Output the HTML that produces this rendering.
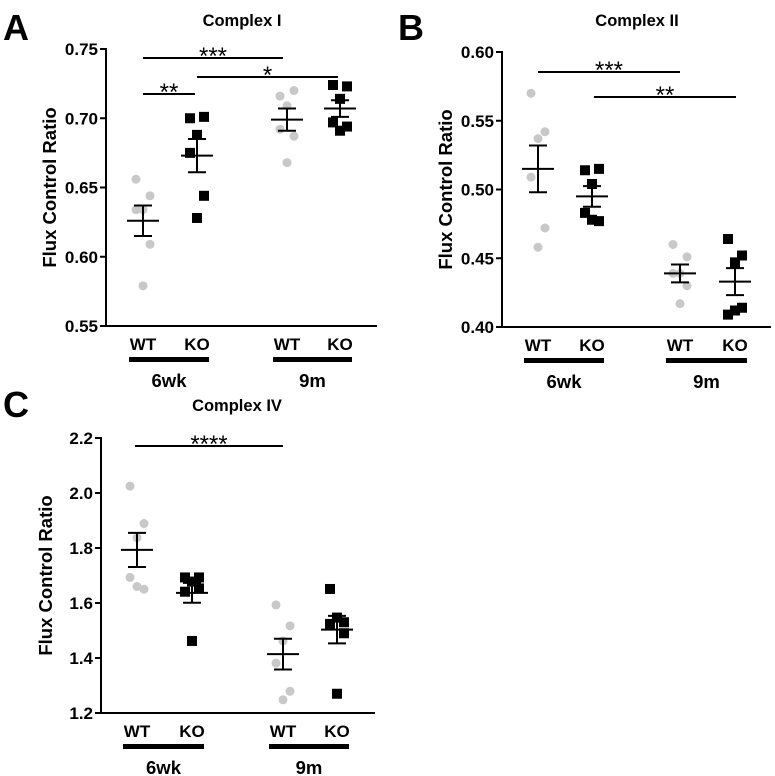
<!DOCTYPE html>
<html><head><meta charset="utf-8"><style>
html,body{margin:0;padding:0;background:#fff;}
svg{display:block;font-family:"Liberation Sans",Arial,sans-serif;font-weight:bold;}
</style></head><body>
<svg id="fig" width="775" height="776" viewBox="0 0 775 776"></svg>
<script>
// ---- data ----
const groupLabels = ["WT","KO","WT","KO"];
const ageLabels = ["6wk","9m"];
const aWT6 = [0.656,0.644,0.634,0.634,0.609,0.579];
const aKO6 = [0.700,0.701,0.688,0.675,0.644,0.628];
const aWT9 = [0.716,0.720,0.709,0.692,0.687,0.668];
const aKO9 = [0.724,0.723,0.714,0.697,0.694,0.691];
const aMeans = [0.626,0.673,0.699,0.707];
const aSem = [0.011,0.012,0.008,0.006];
const aTicks = [0.55,0.60,0.65,0.70,0.75];
const aTickLabels = ["0.55","0.60","0.65","0.70","0.75"];
const bWT6 = [0.570,0.542,0.537,0.509,0.472,0.458];
const bKO6 = [0.514,0.515,0.504,0.483,0.477,0.478];
const bWT9 = [0.460,0.451,0.439,0.439,0.430,0.417];
const bKO9 = [0.464,0.452,0.447,0.409,0.414,0.412];
const bMeans = [0.515,0.495,0.439,0.433];
const bSem = [0.017,0.0075,0.0065,0.0098];
const bTicks = [0.40,0.45,0.50,0.55,0.60];
const bTickLabels = ["0.40","0.45","0.50","0.55","0.60"];
const cWT6 = [2.025,1.889,1.837,1.693,1.650,1.660];
const cKO6 = [1.693,1.693,1.678,1.641,1.653,1.462];
const cWT9 = [1.593,1.517,1.462,1.381,1.279,1.248];
const cKO9 = [1.651,1.530,1.547,1.524,1.490,1.270];
const cMeans = [1.793,1.637,1.414,1.503];
const cSem = [0.062,0.036,0.056,0.050];
const cTicks = [1.2,1.4,1.6,1.8,2.0,2.2];
const cTickLabels = ["1.2","1.4","1.6","1.8","2.0","2.2"];
const jitter = [-7,7,0,-7,7,0];

const NS="http://www.w3.org/2000/svg";
const svg=document.getElementById('fig');
function mk(tag,attrs,parent,text){const e=document.createElementNS(NS,tag);for(const k in attrs)e.setAttribute(k,attrs[k]);if(text!==undefined)e.textContent=text;(parent||svg).appendChild(e);return e;}

function panel(cfg){
  const g=mk('g',{});
  
  
  const y=v=>cfg.y0+(v-cfg.vmin)/(cfg.vmax-cfg.vmin)*(cfg.y1-cfg.y0);
  const L=mk('text',{x:cfg.letterX,y:cfg.letterY,'font-size':36},g,cfg.letter);
  
  
  const T=mk('text',{x:cfg.titleX,y:cfg.titleY,'font-size':16.5,'text-anchor':'middle'},g,cfg.title);
  
  
  const ya=mk('line',{x1:cfg.ax,y1:y(cfg.vmax)-1,x2:cfg.ax,y2:cfg.y0+1,stroke:'#000','stroke-width':2},g);
  
  
  const xa=mk('line',{x1:cfg.ax-6,y1:cfg.y0,x2:cfg.axEnd,y2:cfg.y0,stroke:'#000','stroke-width':2},g);
  
  
  cfg.ticks.forEach((t,i)=>{
    const tl=mk('line',{x1:cfg.ax-6,y1:y(t),x2:cfg.ax,y2:y(t),stroke:'#000','stroke-width':2},g);
    
    
    const tx=mk('text',{x:cfg.ax-8,y:y(t)+6,'font-size':17,'text-anchor':'end'},g,cfg.tickLabels[i]);
    
    
  });
  const yt=mk('text',{x:0,y:0,'font-size':18.5,'text-anchor':'middle',transform:`translate(${cfg.ytX},${(cfg.y0+y(cfg.vmax))/2}) rotate(-90)`},g,'Flux Control Ratio');
  
  
  cfg.series.forEach((arr,gi)=>{
    const cx=cfg.gx[gi];const isKO=gi%2===1;
    arr.forEach((v,pi)=>{
      let m;
      if(isKO){m=mk('rect',{x:cx+jitter[pi]-5,y:y(v)-5,width:10,height:10,fill:'#000'},g);}
      else{m=mk('circle',{cx:cx+jitter[pi],cy:y(v),r:4.5,fill:'#c8c8c8'},g);}
      
      
    });
    const mm=cfg.means[gi],s=cfg.sem[gi];
    const eb=mk('path',{d:`M${cx-16},${y(mm)}H${cx+16}M${cx},${y(mm+s)}V${y(mm-s)}M${cx-9},${y(mm+s)}H${cx+9}M${cx-9},${y(mm-s)}H${cx+9}`,stroke:'#000','stroke-width':2,fill:'none'},g);
    
    
    const gl=mk('text',{x:cx,y:cfg.y0+24,'font-size':17,'text-anchor':'middle'},g,groupLabels[gi]);
    
    
  });
  [[0,1],[2,3]].forEach((p,ai)=>{
    const x1=cfg.gx[p[0]]-14,x2=cfg.gx[p[1]]+12;
    const b=mk('rect',{x:x1,y:cfg.y0+31,width:x2-x1,height:5,fill:'#000'},g);
    
    
    const t=mk('text',{x:(x1+x2)/2,y:cfg.y0+61,'font-size':18.5,'text-anchor':'middle'},g,ageLabels[ai]);
    
    
  });
  cfg.sig.forEach(s=>{
    const l=mk('line',{x1:s.x1,y1:s.y,x2:s.x2,y2:s.y,stroke:'#000','stroke-width':2},g);
    
    
    const t=mk('text',{x:(s.x1+s.x2)/2,y:s.y+6,'font-size':24,'font-weight':'normal','text-anchor':'middle'},g,s.t);
    
    
  });
}

panel({name:'panel-a-complex-i',letter:'A',letterX:3,letterY:40,title:'Complex I',titleX:242,titleY:26,
  ax:106,axEnd:377,y0:326,y1:49,vmin:0.55,vmax:0.75,ytX:56,
  ticks:aTicks,tickLabels:aTickLabels,gx:[143,197,287,340],
  series:[aWT6,aKO6,aWT9,aKO9],means:aMeans,sem:aSem,
  sig:[{x1:143,x2:283,y:58,t:'***'},{x1:143,x2:195,y:94,t:'**'},{x1:197,x2:338,y:77,t:'*'}]});
panel({name:'panel-b-complex-ii',letter:'B',letterX:398,letterY:40,title:'Complex II',titleX:637,titleY:26,
  ax:502,axEnd:771,y0:327,y1:52,vmin:0.40,vmax:0.60,ytX:452,
  ticks:bTicks,tickLabels:bTickLabels,gx:[538,592,680,735],
  series:[bWT6,bKO6,bWT9,bKO9],means:bMeans,sem:bSem,
  sig:[{x1:538,x2:680,y:72,t:'***'},{x1:594,x2:736,y:97,t:'**'}]});
panel({name:'panel-c-complex-iv',letter:'C',letterX:3,letterY:417,title:'Complex IV',titleX:237,titleY:411,
  ax:101,axEnd:375,y0:713,y1:438,vmin:1.2,vmax:2.2,ytX:52,
  ticks:cTicks,tickLabels:cTickLabels,gx:[137,192,283,337],
  series:[cWT6,cKO6,cWT9,cKO9],means:cMeans,sem:cSem,
  sig:[{x1:135,x2:283,y:446,t:'****'}]});
</script>
</body></html>
